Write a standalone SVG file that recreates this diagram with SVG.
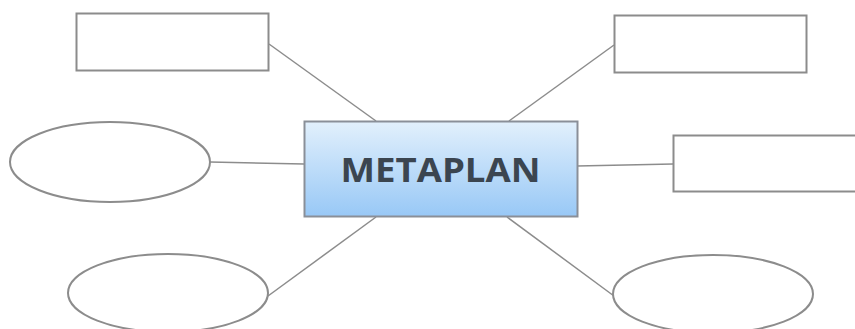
<svg xmlns="http://www.w3.org/2000/svg" width="855" height="329" viewBox="0 0 855 329">
<defs>
<linearGradient id="g" x1="0" y1="0" x2="0" y2="1">
<stop offset="0" stop-color="#e2f0fc"/>
<stop offset="1" stop-color="#98c8f6"/>
</linearGradient>
<style>
.n{fill:#fff;stroke:#8c8c8c;stroke-width:2}
.c{stroke:#8c8c8c;stroke-width:1.5;fill:none}
.t{font-family:"Open Sans","DejaVu Sans",sans-serif;font-weight:bold;font-size:34px;fill:#3b4550}
</style>
</defs>
<rect width="855" height="329" fill="#fff"/>
<g id="connectors">
<line class="c" x1="269" y1="44" x2="376" y2="121"/>
<line class="c" x1="614" y1="45" x2="509" y2="121"/>
<line class="c" x1="210" y1="162" x2="304" y2="164"/>
<line class="c" x1="577" y1="166" x2="673" y2="164"/>
<line class="c" x1="376" y1="217" x2="268" y2="296"/>
<line class="c" x1="507" y1="217" x2="614" y2="296"/>
</g>
<g id="center">
<rect x="304.5" y="121.5" width="273" height="95" fill="url(#g)" stroke="#8a8f98" stroke-width="2"/>
<text class="t" x="440.5" y="182" text-anchor="middle" textLength="200" lengthAdjust="spacingAndGlyphs">METAPLAN</text>
</g>
<g id="box-top-left"><rect class="n" x="76.5" y="13.5" width="192" height="57"/></g>
<g id="box-top-right"><rect class="n" x="614.5" y="15.5" width="192" height="57"/></g>
<g id="box-right"><rect class="n" x="673.5" y="135.5" width="200" height="56"/></g>
<g id="ellipse-left"><ellipse class="n" cx="110" cy="162" rx="100" ry="40"/></g>
<g id="ellipse-bottom-left"><ellipse class="n" cx="168" cy="293" rx="100" ry="39"/></g>
<g id="ellipse-bottom-right"><ellipse class="n" cx="713" cy="294" rx="100" ry="39"/></g>
</svg>
